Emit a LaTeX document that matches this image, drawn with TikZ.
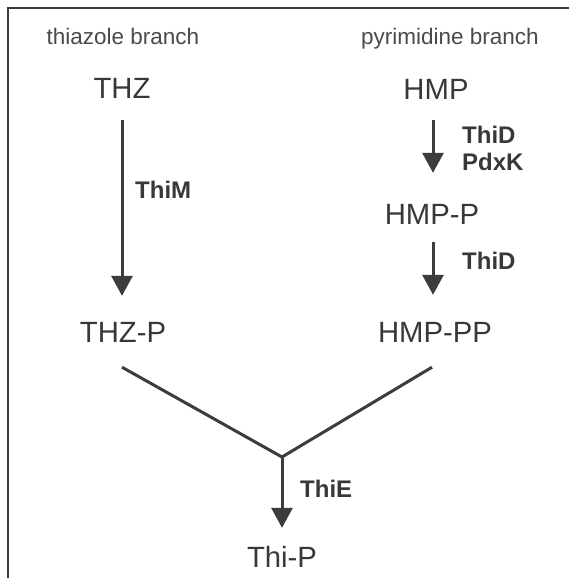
\documentclass[tikz,border=0pt]{standalone}
\usepackage{fontspec}
\setmainfont{Liberation Sans}
\usetikzlibrary{arrows.meta}
\definecolor{ink}{HTML}{3C3C3C}
\definecolor{textink}{HTML}{383838}
\definecolor{headink}{HTML}{4A4A4A}
\tikzset{
  compound/.style={inner sep=0pt, text height=21pt, text depth=0pt, text=textink,
                   font=\fontsize{29.3}{31}\selectfont},
  enzyme/.style={inner sep=0pt, anchor=west, text height=17pt, text depth=0pt, text=textink,
                 font=\fontsize{24}{26}\selectfont\bfseries},
  branchlabel/.style={inner sep=0pt, anchor=base, text=headink,
                      font=\fontsize{22.5}{24}\selectfont},
  flow/.style={draw=ink, line width=3pt, -{Triangle[length=20pt,width=21pt]}},
  joinline/.style={draw=ink, line width=3pt},
  frameline/.style={draw=ink, line width=1.8pt}
}
\begin{document}
\begin{tikzpicture}[x=1pt, y=-1pt]
  \useasboundingbox[fill=white] (0,0) rectangle (569,578);

  % frame along the top and left edges
  \draw[frameline] (8,578) -- (8,8) -- (569,8);

  % branch headings
  \node[branchlabel] (thzhead) at (123,45) {thiazole branch};
  \node[branchlabel] (hmphead) at (450,45) {pyrimidine branch};

  % compounds
  \node[compound] (thz)   at (122,88)  {THZ};
  \node[compound] (thzp)  at (123,332) {THZ-P};
  \node[compound] (hmp)   at (436,89)  {HMP};
  \node[compound] (hmpp)  at (432,214) {HMP-P};
  \node[compound] (hmppp) at (435,332) {HMP-PP};
  \node[compound] (thip)  at (282,557) {Thi-P};
  \coordinate (junc) at (282,457);

  % enzymes
  \node[enzyme] (thim)  at (135,190) {ThiM};
  \node[enzyme] (thid1) at (462,135) {ThiD};
  \node[enzyme] (pdxk)  at (462,162) {PdxK};
  \node[enzyme] (thid2) at (462,261) {ThiD};
  \node[enzyme] (thie)  at (300,489) {ThiE};

  % thiazole branch
  \draw[flow, shorten <=21.5pt, shorten >=25.5pt] (thz.south) -- (thz.south |- thzp.north);

  % pyrimidine branch
  \draw[flow, shorten <=20.5pt, shorten >=30.5pt] ([xshift=-3pt]hmp.south) -- ([xshift=-3pt]hmp.south |- hmpp.north);
  \draw[flow, shorten <=17.5pt, shorten >=26.5pt] ([xshift=1pt]hmpp.south) -- ([xshift=1pt]hmpp.south |- hmppp.north);

  % condensation
  \draw[joinline] ([xshift=-1pt,yshift=-24.5pt]thzp.south) -- (junc) -- ([xshift=-3pt,yshift=-24.5pt]hmppp.south);
  \draw[flow, shorten >=18.5pt] (junc) -- (junc |- thip.north);
\end{tikzpicture}
\end{document}
